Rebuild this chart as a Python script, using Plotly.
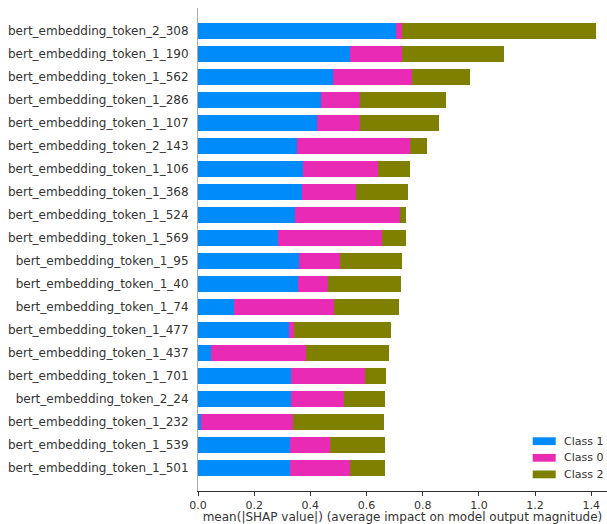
import plotly.graph_objects as go

# Features, ordered from most to least important (top to bottom)
features = [
    "bert_embedding_token_2_308", "bert_embedding_token_1_190", "bert_embedding_token_1_562",
    "bert_embedding_token_1_286", "bert_embedding_token_1_107", "bert_embedding_token_2_143",
    "bert_embedding_token_1_106", "bert_embedding_token_1_368", "bert_embedding_token_1_524",
    "bert_embedding_token_1_569", "bert_embedding_token_1_95", "bert_embedding_token_1_40",
    "bert_embedding_token_1_74", "bert_embedding_token_1_477", "bert_embedding_token_1_437",
    "bert_embedding_token_1_701", "bert_embedding_token_2_24", "bert_embedding_token_1_232",
    "bert_embedding_token_1_539", "bert_embedding_token_1_501",
]

# mean(|SHAP|) per class, stacked in this order
class_1 = [0.706, 0.542, 0.482, 0.439, 0.425, 0.354, 0.375, 0.370, 0.346, 0.285,
           0.361, 0.356, 0.127, 0.325, 0.046, 0.332, 0.332, 0.011, 0.327, 0.327]
class_0 = [0.021, 0.185, 0.281, 0.136, 0.150, 0.402, 0.267, 0.193, 0.372, 0.371,
           0.145, 0.105, 0.358, 0.017, 0.339, 0.264, 0.188, 0.328, 0.143, 0.215]
class_2 = [0.691, 0.362, 0.204, 0.307, 0.282, 0.058, 0.112, 0.183, 0.021, 0.083,
           0.219, 0.260, 0.229, 0.344, 0.294, 0.075, 0.144, 0.322, 0.194, 0.122]

class_names = ["Class 1", "Class 0", "Class 2"]
class_colors = ["#008bfb", "#e92ab4", "#808000"]
class_values = [class_1, class_0, class_2]

x_ticks = [0.0, 0.2, 0.4, 0.6, 0.8, 1.0, 1.2, 1.4]
x_title = "mean(|SHAP value|) (average impact on model output magnitude)"

FONT = "DejaVu Sans"
TXT = "#333333"

fig = go.Figure()
for name, color, vals in zip(class_names, class_colors, class_values):
    fig.add_trace(go.Bar(
        x=vals, y=features, orientation="h", name=name,
        marker=dict(color=color, line=dict(width=0)),
        width=0.72, showlegend=False,
    ))

# Legend drawn as colour swatches + labels in the lower-right corner
W, H = 607, 524
m_l, m_r, m_t, m_b = 198, 0, 8, 33
pw, ph = W - m_l - m_r, H - m_t - m_b

def px_x(x):
    return (x - m_l) / pw

def px_y(y):
    return (H - m_b - y) / ph

for i, (name, color) in enumerate(zip(class_names, class_colors)):
    yc = 441.2 + i * 16.6
    fig.add_shape(type="rect", xref="paper", yref="paper",
                  x0=px_x(532.7), x1=px_x(555.7),
                  y0=px_y(yc + 3.9), y1=px_y(yc - 3.9),
                  fillcolor=color, line=dict(width=0))
    fig.add_annotation(xref="paper", yref="paper", x=px_x(563), y=px_y(yc),
                       text=name, showarrow=False, xanchor="left", yanchor="middle",
                       borderpad=0,
                       font=dict(family=FONT, size=11, color=TXT))

fig.update_layout(
    barmode="stack",
    width=W, height=H,
    margin=dict(l=m_l, r=m_r, t=m_t, b=m_b, pad=0),
    plot_bgcolor="white", paper_bgcolor="white",
    font=dict(family=FONT, color=TXT),
    bargap=0,
)
fig.update_xaxes(
    range=[0, 1.456], tickvals=x_ticks, ticktext=[f"{t:.1f}" for t in x_ticks],
    showgrid=False, zeroline=False,
    showline=True, linecolor="#333333", linewidth=1,
    ticks="outside", ticklen=4, tickcolor="#333333", tickwidth=1,
    tickfont=dict(family=FONT, size=11, color=TXT),
    title=dict(text=x_title, font=dict(family=FONT, size=12, color=TXT), standoff=3),
    automargin=False,
)
fig.update_yaxes(
    categoryorder="array", categoryarray=features[::-1],
    range=[-1, 20], showgrid=False, zeroline=False,
    showline=True, linecolor="#aaaaaa", linewidth=1,
    ticks="", tickfont=dict(family=FONT, size=12, color=TXT),
    ticklabelstandoff=6, automargin=False,
)

fig.write_html("out.html")
